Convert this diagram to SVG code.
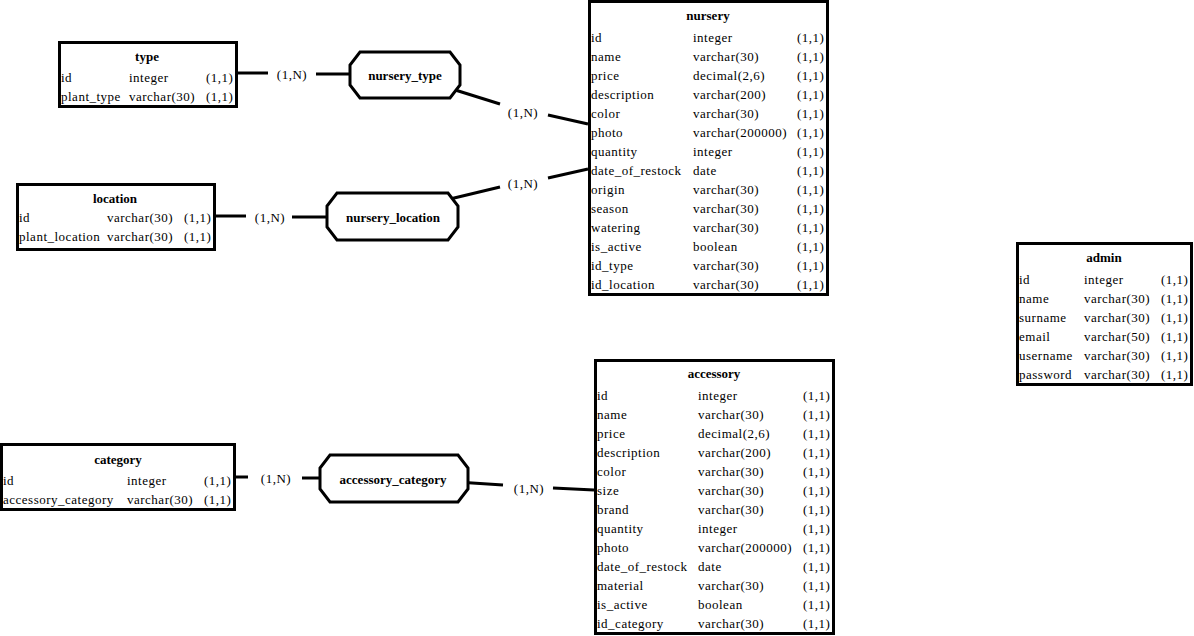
<svg xmlns="http://www.w3.org/2000/svg" width="1194" height="636" viewBox="0 0 1194 636">
<style>
text{font-family:"Liberation Serif","Times New Roman",serif;font-size:13px;fill:#000;letter-spacing:0.5px}
.t{font-weight:bold;text-anchor:middle;letter-spacing:0}
.r{font-weight:bold;text-anchor:middle;letter-spacing:0}
.c{text-anchor:middle}
rect.e{fill:#fff;stroke:#000;stroke-width:3}
polygon.rel{fill:#fff;stroke:#000;stroke-width:3}
#connectors line{stroke:#000;stroke-width:3}
</style>
<rect width="1194" height="636" fill="#fff"/>
<g id="connectors">
<line x1="238" y1="73" x2="268" y2="73"/>
<line x1="316" y1="74" x2="356" y2="74"/>
<line x1="452" y1="89" x2="500" y2="104"/>
<line x1="548" y1="115" x2="588" y2="124"/>
<line x1="216" y1="216" x2="246" y2="216"/>
<line x1="292" y1="217" x2="333" y2="217"/>
<line x1="450" y1="199" x2="500" y2="187"/>
<line x1="548" y1="178" x2="588" y2="169"/>
<line x1="236" y1="477" x2="248" y2="477"/>
<line x1="302" y1="478" x2="333" y2="478"/>
<line x1="457" y1="482" x2="503" y2="485"/>
<line x1="553" y1="488" x2="594" y2="490"/>
<text class="c" x="292" y="79">(1,N)</text>
<text class="c" x="523" y="117">(1,N)</text>
<text class="c" x="270" y="222">(1,N)</text>
<text class="c" x="523" y="188">(1,N)</text>
<text class="c" x="276" y="483">(1,N)</text>
<text class="c" x="529" y="493">(1,N)</text>
</g>
<g id="nursery_type">
<polygon class="rel" points="360,52 450,52 460,65 460,85 450,98 360,98 350,85 350,65"/>
<text class="r" x="405" y="80">nursery_type</text>
</g>
<g id="nursery_location">
<polygon class="rel" points="337,193 448,193 458,206 458,227 448,240 337,240 327,227 327,206"/>
<text class="r" x="393" y="222">nursery_location</text>
</g>
<g id="accessory_category">
<polygon class="rel" points="330,455 458,455 468,468 468,489 458,502 330,502 320,489 320,468"/>
<text class="r" x="393" y="484">accessory_category</text>
</g>
<g id="type">
<rect class="e" x="59.5" y="42.5" width="177" height="64"/>
<text class="t" x="147" y="61">type</text>
<text x="61" y="82">id</text><text x="129" y="82">integer</text><text x="206" y="82">(1,1)</text>
<text x="61" y="101">plant_type</text><text x="129" y="101">varchar(30)</text><text x="206" y="101">(1,1)</text>
</g>
<g id="location">
<rect class="e" x="17.5" y="184.5" width="197" height="65"/>
<text class="t" x="115" y="203">location</text>
<text x="19" y="222">id</text><text x="107" y="222">varchar(30)</text><text x="184" y="222">(1,1)</text>
<text x="19" y="241">plant_location</text><text x="107" y="241">varchar(30)</text><text x="184" y="241">(1,1)</text>
</g>
<g id="category">
<rect class="e" x="1.5" y="444.5" width="233" height="65"/>
<text class="t" x="118" y="464">category</text>
<text x="3" y="485">id</text><text x="127" y="485">integer</text><text x="204" y="485">(1,1)</text>
<text x="3" y="504">accessory_category</text><text x="127" y="504">varchar(30)</text><text x="204" y="504">(1,1)</text>
</g>
<g id="admin">
<rect class="e" x="1017.5" y="243.5" width="174" height="141"/>
<text class="t" x="1104" y="262">admin</text>
<text x="1019" y="284">id</text><text x="1084" y="284">integer</text><text x="1161" y="284">(1,1)</text>
<text x="1019" y="303">name</text><text x="1084" y="303">varchar(30)</text><text x="1161" y="303">(1,1)</text>
<text x="1019" y="322">surname</text><text x="1084" y="322">varchar(30)</text><text x="1161" y="322">(1,1)</text>
<text x="1019" y="341">email</text><text x="1084" y="341">varchar(50)</text><text x="1161" y="341">(1,1)</text>
<text x="1019" y="360">username</text><text x="1084" y="360">varchar(30)</text><text x="1161" y="360">(1,1)</text>
<text x="1019" y="379">password</text><text x="1084" y="379">varchar(30)</text><text x="1161" y="379">(1,1)</text>
</g>
<g id="nursery">
<rect class="e" x="589.5" y="1.5" width="238" height="293"/>
<text class="t" x="708" y="20">nursery</text>
<text x="591" y="42">id</text><text x="693" y="42">integer</text><text x="797" y="42">(1,1)</text>
<text x="591" y="61">name</text><text x="693" y="61">varchar(30)</text><text x="797" y="61">(1,1)</text>
<text x="591" y="80">price</text><text x="693" y="80">decimal(2,6)</text><text x="797" y="80">(1,1)</text>
<text x="591" y="99">description</text><text x="693" y="99">varchar(200)</text><text x="797" y="99">(1,1)</text>
<text x="591" y="118">color</text><text x="693" y="118">varchar(30)</text><text x="797" y="118">(1,1)</text>
<text x="591" y="137">photo</text><text x="693" y="137">varchar(200000)</text><text x="797" y="137">(1,1)</text>
<text x="591" y="156">quantity</text><text x="693" y="156">integer</text><text x="797" y="156">(1,1)</text>
<text x="591" y="175">date_of_restock</text><text x="693" y="175">date</text><text x="797" y="175">(1,1)</text>
<text x="591" y="194">origin</text><text x="693" y="194">varchar(30)</text><text x="797" y="194">(1,1)</text>
<text x="591" y="213">season</text><text x="693" y="213">varchar(30)</text><text x="797" y="213">(1,1)</text>
<text x="591" y="232">watering</text><text x="693" y="232">varchar(30)</text><text x="797" y="232">(1,1)</text>
<text x="591" y="251">is_active</text><text x="693" y="251">boolean</text><text x="797" y="251">(1,1)</text>
<text x="591" y="270">id_type</text><text x="693" y="270">varchar(30)</text><text x="797" y="270">(1,1)</text>
<text x="591" y="289">id_location</text><text x="693" y="289">varchar(30)</text><text x="797" y="289">(1,1)</text>
</g>
<g id="accessory">
<rect class="e" x="595.5" y="360.5" width="238" height="273"/>
<text class="t" x="714" y="378">accessory</text>
<text x="597" y="400">id</text><text x="698" y="400">integer</text><text x="803" y="400">(1,1)</text>
<text x="597" y="419">name</text><text x="698" y="419">varchar(30)</text><text x="803" y="419">(1,1)</text>
<text x="597" y="438">price</text><text x="698" y="438">decimal(2,6)</text><text x="803" y="438">(1,1)</text>
<text x="597" y="457">description</text><text x="698" y="457">varchar(200)</text><text x="803" y="457">(1,1)</text>
<text x="597" y="476">color</text><text x="698" y="476">varchar(30)</text><text x="803" y="476">(1,1)</text>
<text x="597" y="495">size</text><text x="698" y="495">varchar(30)</text><text x="803" y="495">(1,1)</text>
<text x="597" y="514">brand</text><text x="698" y="514">varchar(30)</text><text x="803" y="514">(1,1)</text>
<text x="597" y="533">quantity</text><text x="698" y="533">integer</text><text x="803" y="533">(1,1)</text>
<text x="597" y="552">photo</text><text x="698" y="552">varchar(200000)</text><text x="803" y="552">(1,1)</text>
<text x="597" y="571">date_of_restock</text><text x="698" y="571">date</text><text x="803" y="571">(1,1)</text>
<text x="597" y="590">material</text><text x="698" y="590">varchar(30)</text><text x="803" y="590">(1,1)</text>
<text x="597" y="609">is_active</text><text x="698" y="609">boolean</text><text x="803" y="609">(1,1)</text>
<text x="597" y="628">id_category</text><text x="698" y="628">varchar(30)</text><text x="803" y="628">(1,1)</text>
</g>
</svg>
